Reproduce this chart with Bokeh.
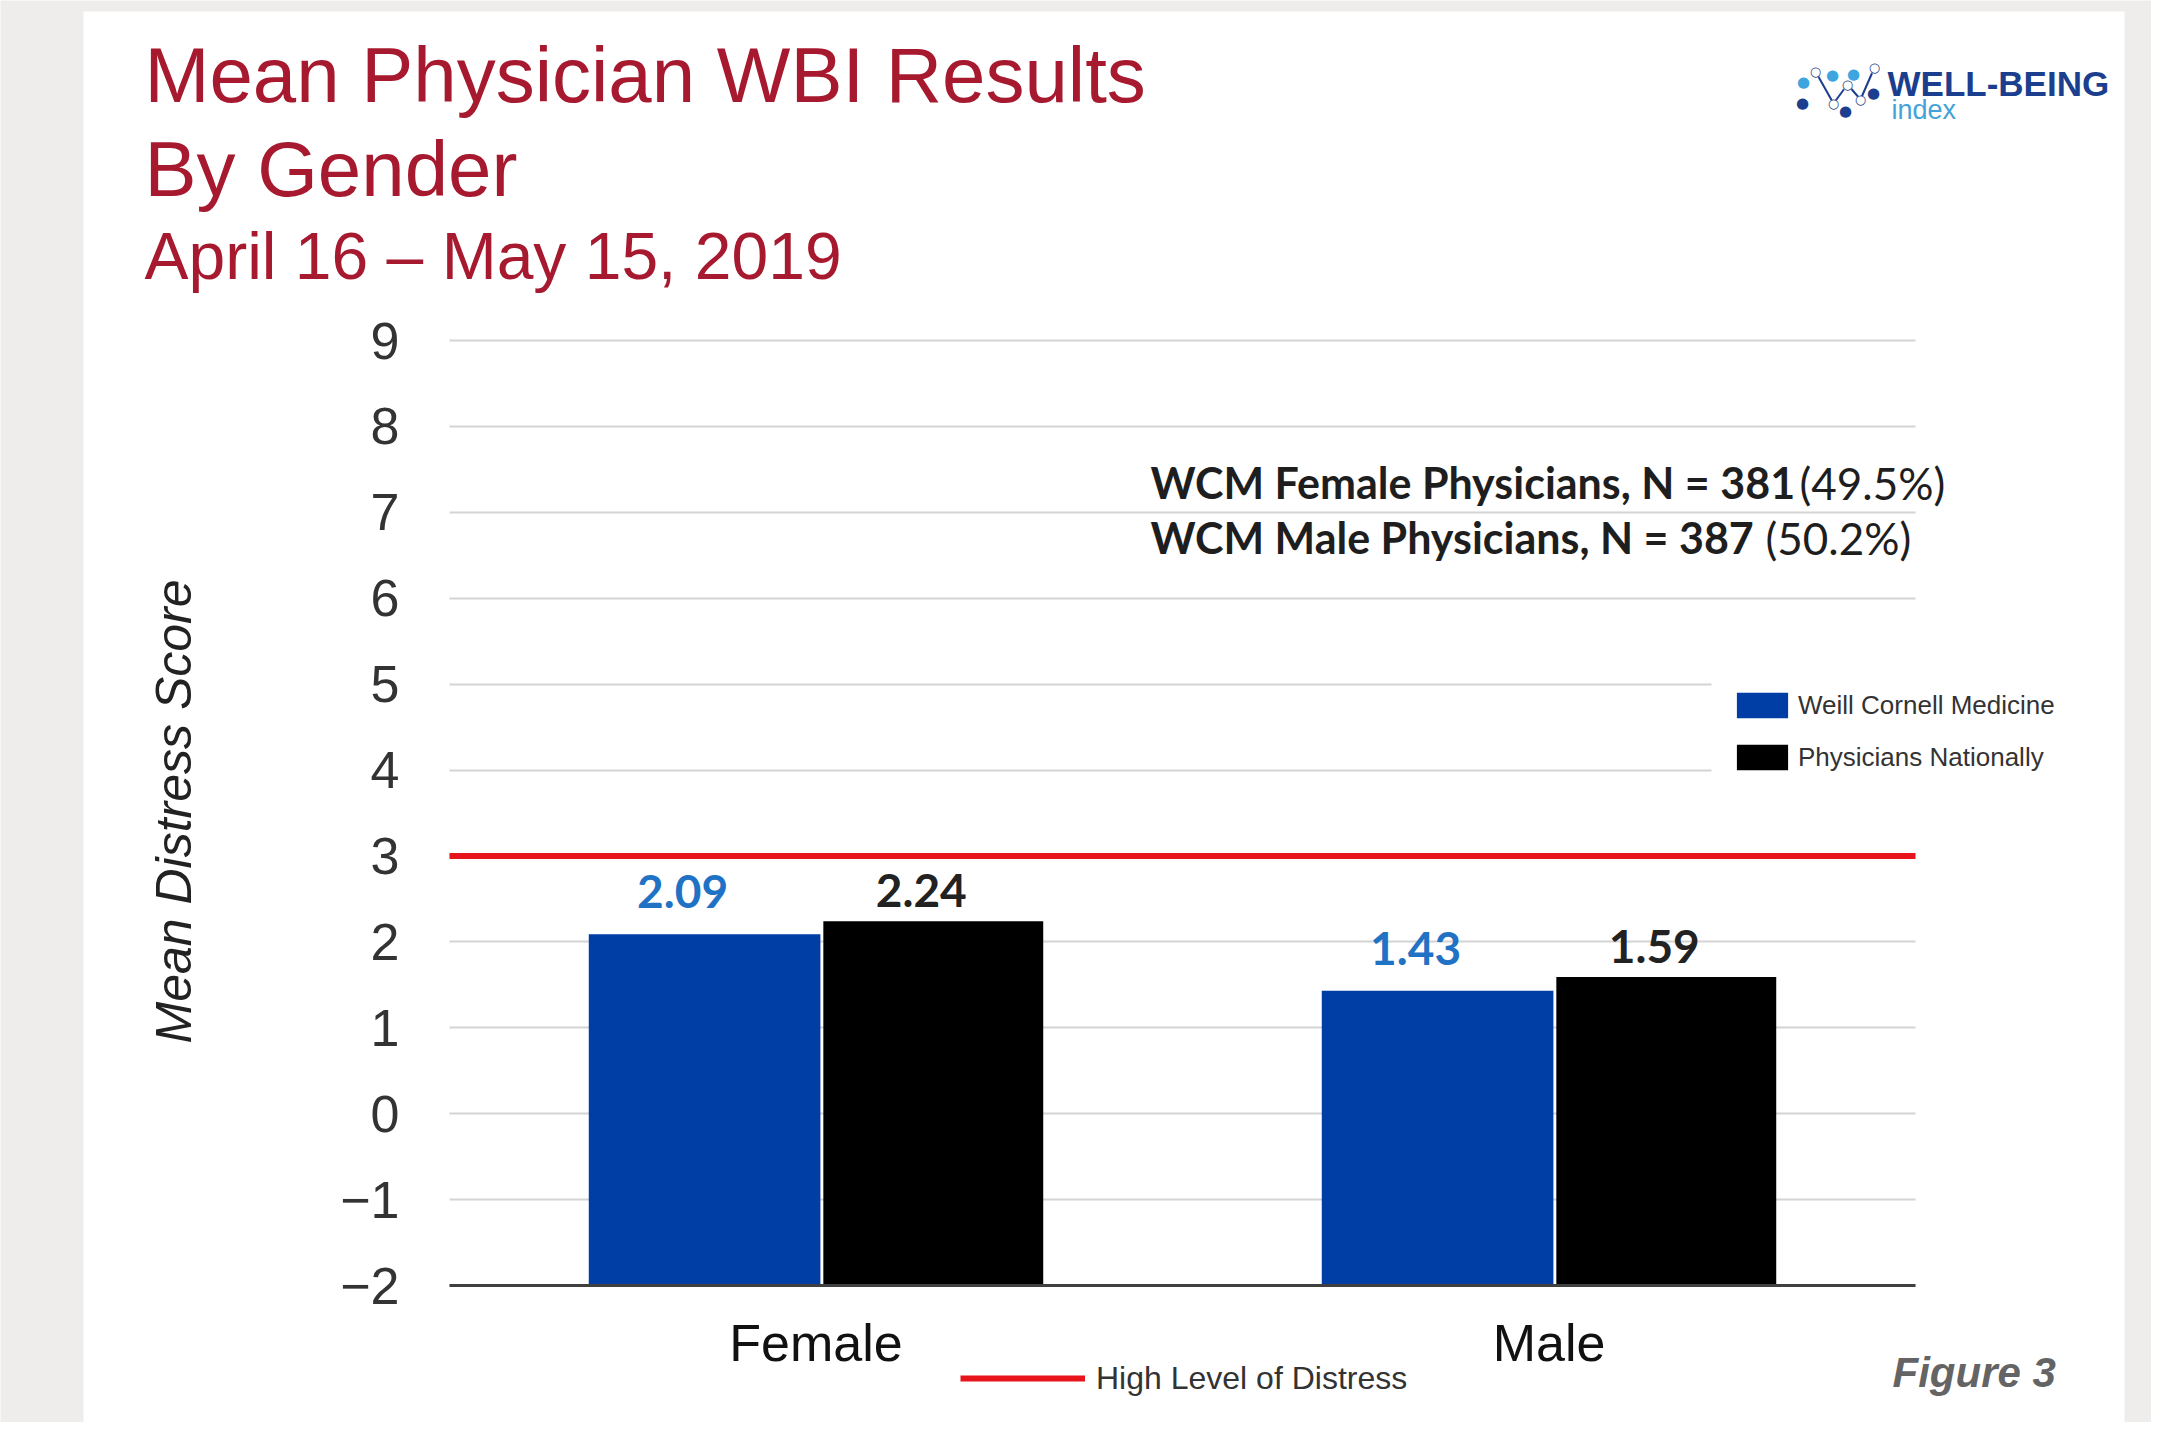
from bokeh.plotting import figure
from bokeh.models import (Range1d, FixedTicker, Label, LabelSet, Legend, LegendItem,
                          BoxAnnotation, ColumnDataSource, Arrow, Grid)
from bokeh.core.properties import value
from bokeh.transform import dodge
from bokeh.embed import file_html
from bokeh.resources import INLINE

# ---------------- data ----------------
categories = ["Female", "Male"]
wcm_scores = [2.09, 1.43]
national_scores = [2.24, 1.59]
wcm_labels = ["2.09", "1.43"]
national_labels = ["2.24", "1.59"]
distress_threshold = 3
y_ticks = [-2, -1, 0, 1, 2, 3, 4, 5, 6, 7, 8, 9]
series_names = ["Weill Cornell Medicine", "Physicians Nationally"]
threshold_name = "High Level of Distress"
title_lines = ["Mean Physician WBI Results", "By Gender", "April 16 \u2013 May 15, 2019"]
sample_bold = ["WCM Female Physicians, N = 381", "WCM Male Physicians, N = 387"]
sample_pct = ["(49.5%)", "(50.2%)"]
y_label = "Mean Distress Score"
figure_note = "Figure 3"

# ---------------- layout (pixels) ----------------
W, H = 2151, 1422
PL, PR = 449, 1915          # plot area left / right
PT, PB = 340, 1285          # pixel rows of the top and bottom y ticks
n = len(categories)
cat_pos = [i + 0.5 for i in range(n)]
ux = (PR - PL) / n
uy = (PB - PT) / (y_ticks[-1] - y_ticks[0])


def sx(X):
    return X


def sy(Y):
    return H - Y


p = figure(width=W, height=H, title=None,
           x_range=Range1d(-PL / ux, (W - PL) / ux),
           y_range=Range1d(y_ticks[0] - (H - PB) / uy, y_ticks[-1] + PT / uy),
           output_backend="svg", toolbar_location=None, min_border=0,
           min_border_left=0, min_border_right=0, min_border_top=0, min_border_bottom=0,
           border_fill_color="#eeedeb", background_fill_color="#eeedeb",
           outline_line_color=None)

# white panel
p.add_layout(BoxAnnotation(left=sx(83), right=sx(2124), top=sy(11), bottom=sy(1433),
                           left_units="screen", right_units="screen",
                           top_units="screen", bottom_units="screen",
                           fill_color="white", fill_alpha=1, line_color=None,
                           level="image"))

# grid
p.xgrid.visible = False
p.ygrid.ticker = FixedTicker(ticks=y_ticks)
p.ygrid.grid_line_color = "#d4d4d4"
p.ygrid.grid_line_width = 2
if "cross_bounds" in Grid.properties():
    p.ygrid.cross_bounds = (0, n)
else:
    p.ygrid.visible = False
    gsrc = ColumnDataSource(dict(y=y_ticks[1:]))
    p.segment(x0=0, x1=n, y0="y", y1="y", source=gsrc, line_color="#d4d4d4",
              line_width=2, level="underlay")

# axes, fixed inside the canvas
p.yaxis.fixed_location = 0
p.yaxis.ticker = FixedTicker(ticks=y_ticks)
p.yaxis.axis_line_color = None
p.yaxis.major_tick_line_color = None
p.yaxis.minor_tick_line_color = None
p.yaxis.major_tick_out = 0
p.yaxis.major_label_standoff = 50
p.yaxis.major_label_text_font = "Liberation Sans"
p.yaxis.major_label_text_font_size = "52px"
p.yaxis.major_label_text_color = "#333333"

p.xaxis.fixed_location = y_ticks[0]
p.xaxis.bounds = (0, n)
p.xaxis.ticker = FixedTicker(ticks=cat_pos)
p.xaxis.major_label_overrides = {pos: c for pos, c in zip(cat_pos, categories)}
p.xaxis.axis_line_color = "#404040"
p.xaxis.axis_line_width = 3
p.xaxis.major_tick_line_color = None
p.xaxis.minor_tick_line_color = None
p.xaxis.major_tick_out = 0
p.xaxis.major_label_standoff = 28
p.xaxis.major_label_text_font = "Liberation Sans"
p.xaxis.major_label_text_font_size = "52px"
p.xaxis.major_label_text_color = "#111111"

# bars
src = ColumnDataSource(dict(pos=cat_pos, cat=categories, wcm=wcm_scores,
                            nat=national_scores, wl=wcm_labels, nl=national_labels))
r1 = p.vbar(x=dodge("pos", -0.152), top="wcm", bottom=y_ticks[0],
            width=0.316, fill_color="#003da5", line_color=None, source=src)
r2 = p.vbar(x=dodge("pos", 0.16), top="nat", bottom=y_ticks[0],
            width=0.30, fill_color="#000000", line_color=None, source=src)

# threshold line
r3 = p.line(x=[0, n], y=[distress_threshold, distress_threshold],
            line_color="#e8141b", line_width=6)

# value labels
p.add_layout(LabelSet(x=dodge("pos", -0.152), y="wcm", text="wl", source=src,
                      x_offset=-22, y_offset=26, text_align="center",
                      text_baseline="alphabetic",
                      text_font=value("Lato"), text_font_style="bold",
                      text_font_size="46px", text_color="#1f72c4"))
p.add_layout(LabelSet(x=dodge("pos", 0.16), y="nat", text="nl", source=src,
                      x_offset=-12, y_offset=14, text_align="center",
                      text_baseline="alphabetic",
                      text_font=value("Lato"), text_font_style="bold",
                      text_font_size="46px", text_color="#222222"))

# white backing of the series legend (it hides the grid lines under it)
p.add_layout(BoxAnnotation(left=sx(1711), right=sx(2075), top=sy(667), bottom=sy(795),
                           left_units="screen", right_units="screen",
                           top_units="screen", bottom_units="screen",
                           fill_color="white", fill_alpha=1, line_color=None))

# legends (location = bottom-left of the item block)
leg1 = Legend(items=[LegendItem(label=series_names[0], renderers=[r1]),
                     LegendItem(label=series_names[1], renderers=[r2])],
              location=(sx(1730), sy(773)), padding=20, spacing=20,
              glyph_width=64, glyph_height=32, label_height=32, label_standoff=4,
              label_text_font="Liberation Sans", label_text_font_size="26px",
              label_text_color="#333333", border_line_color=None,
              background_fill_color="white", background_fill_alpha=1, margin=0)
p.add_layout(leg1, "center")

leg2 = Legend(items=[LegendItem(label=threshold_name, renderers=[r3])],
              location=(sx(960), sy(1397)), padding=0, spacing=0,
              glyph_width=125, glyph_height=38, label_height=38, label_standoff=11,
              label_text_font="Liberation Sans", label_text_font_size="32px",
              label_text_color="#333333", border_line_color=None,
              background_fill_alpha=0, margin=0)
p.add_layout(leg2, "center")


def lab(text, X, Y, size, color, font="Liberation Sans", style="normal",
        align="left", baseline="alphabetic", angle=0):
    p.add_layout(Label(x=sx(X), y=sy(Y), x_units="screen", y_units="screen",
                       text=text, text_font=font, text_font_size="%dpx" % size,
                       text_font_style=style, text_color=color, text_align=align,
                       text_baseline=baseline, angle=angle, angle_units="deg"))


# titles
lab(title_lines[0], 144, 74, 78, "#a6192e")
lab(title_lines[1], 144, 168, 78, "#a6192e")
lab(title_lines[2], 144, 255, 66, "#a6192e")

# y label
lab(y_label, 173, 811, 50, "#222222", style="italic", align="center",
    baseline="middle", angle=90)

# sample sizes
lab(sample_bold[0], 1150, 482, 43, "#1e1e1e", font="Lato", style="bold")
lab(sample_pct[0], 1799, 482, 44, "#1e1e1e", font="Lato")
lab(sample_bold[1], 1150, 537, 43, "#1e1e1e", font="Lato", style="bold")
lab(sample_pct[1], 1765, 537, 44, "#1e1e1e", font="Lato")

# figure note
lab(figure_note, 1892, 1372, 42, "#646464", style="bold italic")

# logo
lab("WELL-BEING", 1887, 83, 35, "#1c3e8e", style="bold")
lab("index", 1891, 109, 27, "#43a3d9")
w_pts = [(1815, 71), (1833, 103), (1847, 84), (1860, 99), (1874, 67)]
for (x0, y0), (x1, y1) in zip(w_pts[:-1], w_pts[1:]):
    p.add_layout(Arrow(x_start=sx(x0), y_start=sy(y0), x_end=sx(x1), y_end=sy(y1),
                       start_units="screen", end_units="screen", end=None,
                       line_color="#1c3e8e", line_width=2))
for (x0, y0) in w_pts:
    lab("\u25cf", x0, y0, 13, "white", font="DejaVu Sans", align="center", baseline="middle")
    lab("\u25cb", x0, y0, 13, "#1c3e8e", font="DejaVu Sans", align="center", baseline="middle")
for (x0, y0) in [(1803, 81), (1832, 74), (1853, 73)]:
    lab("\u25cf", x0, y0, 15, "#3ea6df", font="DejaVu Sans", align="center", baseline="middle")
for (x0, y0) in [(1802, 102), (1845, 110), (1873, 92)]:
    lab("\u25cf", x0, y0, 15, "#1c3e8e", font="DejaVu Sans", align="center", baseline="middle")

open("out.html", "w").write(file_html(p, INLINE))
